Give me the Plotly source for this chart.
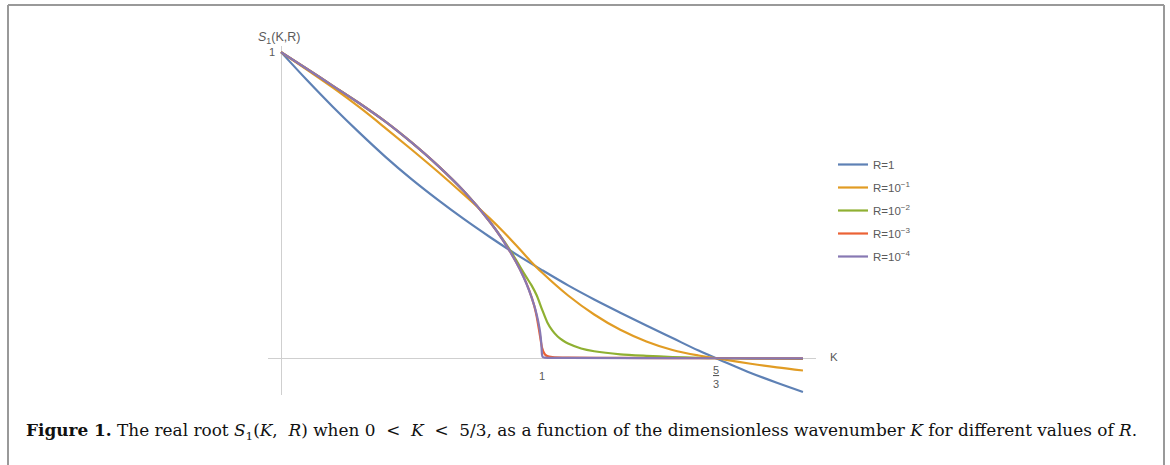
import plotly.graph_objects as go

# ---------------- data ----------------
series_names = ["R=1", "R=10<sup>\u22121</sup>", "R=10<sup>\u22122</sup>",
                "R=10<sup>\u22123</sup>", "R=10<sup>\u22124</sup>"]
series_colors = ["#5E81B5", "#E19C24", "#8FB032", "#EB6235", "#8778B3"]

K_r0 = [0.0, 0.1, 0.2, 0.3, 0.4, 0.5, 0.6, 0.7, 0.8, 0.9, 1.0,
        1.1, 1.2, 1.3, 1.4, 1.5, 1.6, 1.7, 1.8, 1.9, 2.0]
S_r0 = [1.0, 0.908, 0.82, 0.737, 0.658, 0.585, 0.518, 0.455, 0.396, 0.34, 0.288,
        0.238, 0.192, 0.149, 0.107, 0.066, 0.025, -0.012, -0.048, -0.08, -0.11]

K_r1 = [0.0, 0.1, 0.2, 0.3, 0.4, 0.5, 0.6, 0.7, 0.8, 0.85, 0.9, 0.95, 1.0,
        1.1, 1.2, 1.3, 1.4, 1.5, 1.6, 1.667, 1.8, 1.9, 2.0]
S_r1 = [1.0, 0.942, 0.883, 0.82, 0.752, 0.682, 0.61, 0.535, 0.457, 0.415, 0.37, 0.323, 0.28,
        0.205, 0.143, 0.093, 0.055, 0.027, 0.009, 0.0, -0.018, -0.03, -0.04]

K_r2 = [0.0, 0.1, 0.2, 0.3, 0.4, 0.5, 0.6, 0.7, 0.8, 0.85, 0.88, 0.9, 0.92, 0.94, 0.96,
        0.98, 1.0, 1.02, 1.04, 1.06, 1.08, 1.1, 1.15, 1.2, 1.3, 1.4, 1.5, 1.6, 1.667,
        1.8, 2.0]
S_r2 = [1.0, 0.945, 0.889, 0.833, 0.773, 0.705, 0.63, 0.546, 0.446, 0.388, 0.35, 0.322,
        0.293, 0.265, 0.238, 0.205, 0.16, 0.118, 0.09, 0.071, 0.058, 0.048, 0.032, 0.023,
        0.013, 0.008, 0.004, 0.0015, 0.0, -0.001, -0.002]

K_r3 = [0.0, 0.1, 0.2, 0.3, 0.4, 0.5, 0.6, 0.7, 0.8, 0.85, 0.9, 0.93, 0.95, 0.97,
        0.98, 0.99, 1.0, 1.01, 1.02, 1.04, 1.1, 1.3, 1.667, 2.0]
S_r3 = [1.0, 0.945, 0.889, 0.833, 0.773, 0.705, 0.63, 0.546, 0.446, 0.386, 0.315, 0.265,
        0.224, 0.172, 0.135, 0.085, 0.035, 0.014, 0.007, 0.004, 0.002, 0.001, 0.0, -0.0005]

K_r4 = [0.0, 0.1, 0.2, 0.3, 0.4, 0.5, 0.6, 0.7, 0.8, 0.85, 0.9, 0.93, 0.95, 0.97,
        0.98, 0.99, 0.995, 0.998, 1.0, 1.003, 1.01, 1.1, 1.667, 2.0]
S_r4 = [1.0, 0.945, 0.889, 0.833, 0.773, 0.705, 0.63, 0.546, 0.446, 0.386, 0.315, 0.264,
        0.223, 0.173, 0.141, 0.1, 0.07, 0.04, 0.012, 0.004, 0.002, 0.001, 0.0, -0.0002]

K_series = [K_r0, K_r1, K_r2, K_r3, K_r4]
S_series = [S_r0, S_r1, S_r2, S_r3, S_r4]
smooth_levels = [1.0, 1.0, 0.7, 0.5, 0.5]

x_tick_vals = [1.0, 5.0 / 3.0]
x_tick_text = ["1", "<u>5</u><br>3"]
x_tick_shift = [-10, -4]
y_tick_vals = [1.0]
y_tick_text = ["1"]

# ---------------- layout geometry ----------------
W, H = 1170, 465
XR = [-0.05, 2.05]
YR = [-0.12, 1.02]
ML, MT = 268, 46
PW, PH = 548, 349
MR = W - ML - PW
MB = H - MT - PH


def px_x(px):
    return (px - ML) / PW


def px_y(py):
    return (MT + PH - py) / PH


AX_COL = "#cfcfcf"
TXT_COL = "#5a5a5a"
SANS = "Liberation Sans, Arial"

fig = go.Figure()
for i in range(len(K_series)):
    fig.add_trace(go.Scatter(
        x=K_series[i], y=S_series[i], mode="lines", name=series_names[i],
        legendgroup="g%d" % i,
        line=dict(color=series_colors[i], width=2.2, shape="spline",
                  smoothing=smooth_levels[i]),
        hoverinfo="skip",
    ))

annotations = []
for v, t, s in zip(x_tick_vals, x_tick_text, x_tick_shift):
    annotations.append(dict(x=v, y=0, xref="x", yref="y", text=t, showarrow=False,
                            yanchor="top", yshift=s, align="center",
                            font=dict(family=SANS, size=11, color=TXT_COL)))
for v, t in zip(y_tick_vals, y_tick_text):
    annotations.append(dict(x=0, y=v, xref="x", yref="y", text=t, showarrow=False,
                            xanchor="right", xshift=-4,
                            font=dict(family=SANS, size=11, color=TXT_COL)))
annotations.append(dict(x=px_x(256), y=px_y(38), xref="paper", yref="paper",
                        text="<i>S</i><sub>1</sub>(K,R)", showarrow=False,
                        xanchor="left", yanchor="middle",
                        font=dict(family=SANS, size=12.5, color=TXT_COL)))
annotations.append(dict(x=px_x(828), y=px_y(357), xref="paper", yref="paper",
                        text="K", showarrow=False, xanchor="left", yanchor="middle",
                        font=dict(family=SANS, size=11.5, color=TXT_COL)))
caption = ("<b>Figure 1.</b> The real root <i>S</i><sub>1</sub>(<i>K</i>,\u00a0 <i>R</i>) "
           "when 0\u00a0 &lt;\u00a0 <i>K</i>\u00a0 &lt;\u00a0 5/3, as a function of the "
           "dimensionless wavenumber <i>K</i> for different values of <i>R</i>.")
annotations.append(dict(x=px_x(24), y=px_y(431), xref="paper", yref="paper",
                        text=caption, showarrow=False, xanchor="left", yanchor="middle",
                        font=dict(family="DejaVu Serif", size=16.9, color="#111111")))

shapes = [
    # page frame (top, left, right)
    dict(type="line", xref="paper", yref="paper", x0=px_x(8), x1=px_x(1164),
         y0=px_y(5), y1=px_y(5), line=dict(color="#999999", width=2)),
    dict(type="line", xref="paper", yref="paper", x0=px_x(8), x1=px_x(8),
         y0=px_y(5), y1=px_y(470), line=dict(color="#999999", width=2)),
    dict(type="line", xref="paper", yref="paper", x0=px_x(1164), x1=px_x(1164),
         y0=px_y(5), y1=px_y(470), line=dict(color="#999999", width=2)),
]

fig.update_layout(
    width=W, height=H,
    margin=dict(l=ML, r=MR, t=MT, b=MB, pad=0),
    paper_bgcolor="white", plot_bgcolor="white",
    showlegend=True,
    legend=dict(x=px_x(833), y=px_y(150), xanchor="left", yanchor="top",
                font=dict(family=SANS, size=11.5, color=TXT_COL),
                bgcolor="rgba(0,0,0,0)", tracegroupgap=4, itemwidth=30),
    xaxis=dict(range=XR, showgrid=False, showticklabels=False, ticks="",
               zeroline=True, zerolinecolor=AX_COL, zerolinewidth=1, showline=False),
    yaxis=dict(range=YR, showgrid=False, showticklabels=False, ticks="",
               zeroline=True, zerolinecolor=AX_COL, zerolinewidth=1, showline=False),
    annotations=annotations,
    shapes=shapes,
)

fig.write_html("out.html")
